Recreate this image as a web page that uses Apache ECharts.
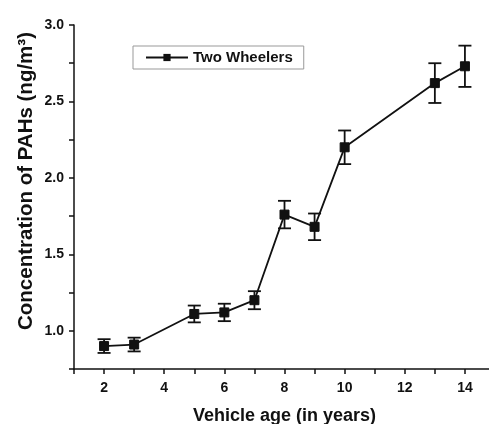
<!DOCTYPE html>
<html>
<head>
<meta charset="utf-8">
<script src="https://cdn.jsdelivr.net/npm/echarts@6/dist/echarts.min.js"></script>
<style>
  html, body { margin: 0; padding: 0; background: #fff; }
  #chart { width: 489px; height: 424px; }
</style>
</head>
<body>
<div id="chart"></div>
<script>
// Vehicle age (years) and PAH concentration (ng/m³) with standard error
const ages = [2, 3, 5, 6, 7, 8, 9, 10, 13, 14];
const concentration = [0.90, 0.91, 1.11, 1.12, 1.20, 1.76, 1.68, 2.20, 2.62, 2.73];
const errors = [0.045, 0.045, 0.055, 0.057, 0.059, 0.09, 0.087, 0.11, 0.13, 0.135];
const seriesName = 'Two Wheelers';
const xTitle = 'Vehicle age (in years)';
const yTitle = 'Concentration of PAHs (ng/m³)';

const FONT = '"Liberation Sans", Arial, sans-serif';
const INK = '#111';

const lineData = ages.map((a, i) => [a, concentration[i]]);
const errData = ages.map((a, i) => [a, concentration[i] - errors[i], concentration[i] + errors[i]]);

const chart = echarts.init(document.getElementById('chart'), null, { renderer: 'canvas' });

chart.setOption({
  animation: false,
  backgroundColor: '#fff',
  grid: { left: 74, top: 25, bottom: 55, right: -6, containLabel: false, outerBoundsMode: 'none' },
  graphic: [
    {
      // vertical axis title, placed beside the tick labels
      type: 'text',
      x: 26,
      y: 181,
      rotation: Math.PI / 2,
      style: {
        text: yTitle,
        fontFamily: FONT,
        fontWeight: 'bold',
        fontSize: 20.5,
        fill: INK,
        align: 'center',
        verticalAlign: 'middle'
      }
    }
  ],
  legend: {
    data: [seriesName],
    left: 133,
    top: 46,
    padding: [4, 11, 4, 12],
    itemWidth: 42,
    itemHeight: 9,
    itemGap: 5,
    borderColor: '#999',
    borderWidth: 1,
    textStyle: { fontFamily: FONT, fontWeight: 'bold', fontSize: 15, color: INK }
  },
  xAxis: {
    type: 'value',
    min: 1,
    max: 15,
    interval: 1,
    name: xTitle,
    nameLocation: 'middle',
    nameGap: 38,
    nameTextStyle: { fontFamily: FONT, fontWeight: 'bold', fontSize: 18, color: INK },
    axisLine: { onZero: false, lineStyle: { color: INK, width: 1.5 } },
    axisTick: { inside: false, length: 5, lineStyle: { color: INK, width: 1.5 } },
    axisLabel: {
      fontFamily: FONT, fontWeight: 'bold', fontSize: 14, color: INK, margin: 12,
      formatter: v => (v % 2 === 0 ? String(v) : '')
    },
    splitLine: { show: false }
  },
  yAxis: {
    type: 'value',
    min: 0.75,
    max: 3.0,
    interval: 0.25,
    axisLine: { show: true, onZero: false, lineStyle: { color: INK, width: 1.5 } },
    axisTick: { show: true, inside: false, length: 5, lineStyle: { color: INK, width: 1.5 } },
    axisLabel: {
      fontFamily: FONT, fontWeight: 'bold', fontSize: 14, color: INK, margin: 10,
      formatter: v => (Math.abs(v * 2 - Math.round(v * 2)) < 1e-6 && v >= 1 ? v.toFixed(1) : '')
    },
    splitLine: { show: false }
  },
  series: [
    {
      type: 'custom',
      name: 'error',
      data: errData,
      encode: { x: 0, y: [1, 2] },
      z: 2,
      renderItem: function (params, api) {
        const x = api.value(0);
        const lo = api.coord([x, api.value(1)]);
        const hi = api.coord([x, api.value(2)]);
        const hw = 6.5;
        const st = { stroke: INK, lineWidth: 1.8 };
        return {
          type: 'group',
          children: [
            { type: 'line', shape: { x1: lo[0], y1: lo[1], x2: hi[0], y2: hi[1] }, style: st },
            { type: 'line', shape: { x1: lo[0] - hw, y1: lo[1], x2: lo[0] + hw, y2: lo[1] }, style: st },
            { type: 'line', shape: { x1: hi[0] - hw, y1: hi[1], x2: hi[0] + hw, y2: hi[1] }, style: st }
          ]
        };
      }
    },
    {
      type: 'line',
      name: seriesName,
      data: lineData,
      symbol: 'rect',
      symbolSize: 9,
      z: 3,
      lineStyle: { color: INK, width: 1.8 },
      itemStyle: { color: INK, borderColor: INK },
      emphasis: { disabled: true }
    }
  ]
});
</script>
</body>
</html>
